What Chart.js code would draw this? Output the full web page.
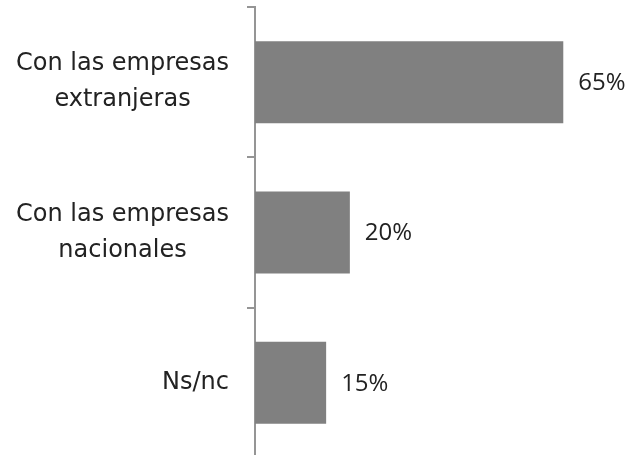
<!DOCTYPE html>
<html>
<head>
<meta charset="utf-8">
<script src="https://cdn.jsdelivr.net/npm/chart.js@4"></script>
<style>
  html, body { margin: 0; padding: 0; background: #fff; overflow: hidden; }
  #wrap { width: 639px; height: 460px; }
</style>
</head>
<body>
<div id="wrap"><canvas id="chart" width="639" height="460"></canvas></div>
<script>
const categories = [
    ["Con las empresas", "extranjeras"],
    ["Con las empresas", "nacionales"],
    ["Ns/nc"]
];
const values = [65, 20, 15];

// etiquetas de categoría: bloque alineado a la derecha, líneas centradas
const categoryLabels = {
    id: "categoryLabels",
    afterDraw(chart) {
        const ctx = chart.ctx;
        const yScale = chart.scales.y;
        const right = chart.chartArea.left - 26;
        ctx.save();
        ctx.font = "24px 'DejaVu Sans'";
        ctx.fillStyle = "#222222";
        ctx.textAlign = "center";
        ctx.textBaseline = "middle";
        categories.forEach((lines, i) => {
            const y = yScale.getPixelForValue(i);
            const maxW = Math.max(...lines.map(l => ctx.measureText(l).width));
            const cx = right - maxW / 2;
            const lh = 36;
            const y0 = y - (lines.length - 1) * lh / 2;
            lines.forEach((l, k) => ctx.fillText(l, cx, y0 + k * lh));
        });
        ctx.restore();
    }
};

const valueLabels = {
    id: "valueLabels",
    afterDatasetsDraw(chart) {
        const ctx = chart.ctx;
        const meta = chart.getDatasetMeta(0);
        ctx.save();
        ctx.font = "24px 'Open Sans'";
        ctx.fillStyle = "#222222";
        ctx.textAlign = "left";
        ctx.textBaseline = "middle";
        meta.data.forEach((bar, i) => {
            ctx.fillText(values[i] + "%", bar.x + 15, bar.y + 1);
        });
        ctx.restore();
    }
};

new Chart(document.getElementById("chart"), {
    type: "bar",
    data: {
        labels: categories,
        datasets: [{
            data: values,
            backgroundColor: "#808080",
            borderWidth: 0,
            barPercentage: 0.545,
            categoryPercentage: 1
        }]
    },
    options: {
        indexAxis: "y",
        responsive: false,
        animation: false,
        layout: { padding: { top: 7, bottom: 2, left: 0, right: 52 } },
        plugins: { legend: { display: false }, tooltip: { enabled: false } },
        scales: {
            x: { display: false, min: 0, max: 70 },
            y: {
                ticks: { display: false },
                grid: {
                    drawOnChartArea: false,
                    drawTicks: true,
                    tickLength: 8,
                    color: "#959595",
                    lineWidth: 2,
                    offset: true
                },
                border: { display: true, color: "#959595", width: 2 },
                afterFit(scale) { scale.width = 255; }
            }
        }
    },
    plugins: [categoryLabels, valueLabels]
});
</script>
</body>
</html>
